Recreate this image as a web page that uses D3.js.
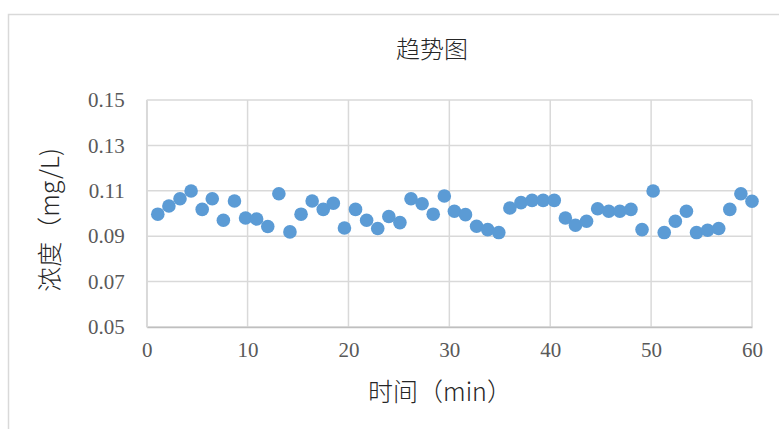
<!DOCTYPE html>
<html>
<head>
<meta charset="utf-8">
<script src="https://cdn.jsdelivr.net/npm/d3@7"></script>
<style>
  html, body { margin: 0; padding: 0; background: #fff; }
  svg { display: block; }
</style>
</head>
<body>
<svg id="chart" width="779" height="429"></svg>
<script>
// Sampling times (min)
const times = [1.1, 2.2, 3.3, 4.4, 5.5, 6.5, 7.6, 8.7, 9.8, 10.9,
  12.0, 13.1, 14.2, 15.3, 16.4, 17.5, 18.5, 19.6, 20.7, 21.8,
  22.9, 24.0, 25.1, 26.2, 27.3, 28.4, 29.5, 30.5, 31.6, 32.7,
  33.8, 34.9, 36.0, 37.1, 38.2, 39.3, 40.4, 41.5, 42.5, 43.6,
  44.7, 45.8, 46.9, 48.0, 49.1, 50.2, 51.3, 52.4, 53.5, 54.5,
  55.6, 56.7, 57.8, 58.9, 60.0];

// Measured concentration (mg/L)
const concentration = [0.0997, 0.1033, 0.1065, 0.1099, 0.1018, 0.1065, 0.0970, 0.1055, 0.0980, 0.0976,
  0.0943, 0.1087, 0.0919, 0.0997, 0.1055, 0.1018, 0.1045, 0.0936, 0.1018, 0.0970,
  0.0934, 0.0987, 0.0960, 0.1065, 0.1043, 0.0997, 0.1077, 0.1010, 0.0995, 0.0944,
  0.0929, 0.0916, 0.1024, 0.1048, 0.1058, 0.1058, 0.1058, 0.0980, 0.0948, 0.0966,
  0.1021, 0.1010, 0.1010, 0.1018, 0.0929, 0.1099, 0.0916, 0.0966, 0.1010, 0.0916,
  0.0926, 0.0934, 0.1018, 0.1087, 0.1054];

const xTicks = [0, 10, 20, 30, 40, 50, 60];
const yTicks = [0.05, 0.07, 0.09, 0.11, 0.13, 0.15];

const chartTitle = "趋势图";
const xTitle = "时间（min）";
const yTitle = "浓度（mg/L)";

const svg = d3.select("#chart");

// Chart area frame
svg.append("rect")
  .attr("x", 8.5).attr("y", 14.5)
  .attr("width", 900).attr("height", 600)
  .attr("fill", "#fff")
  .attr("stroke", "#d9d9d9")
  .attr("stroke-width", 1.5);

const plot = { left: 146.7, right: 752, top: 100, bottom: 327 };

const x = d3.scaleLinear().domain([0, 60]).range([plot.left, plot.right]);
const y = d3.scaleLinear().domain([0.05, 0.15]).range([plot.bottom, plot.top]);

// Gridlines
const grid = svg.append("g").attr("stroke", "#d9d9d9").attr("stroke-width", 1.5);
grid.selectAll("line.h").data(yTicks).join("line")
  .attr("class", "h")
  .attr("x1", plot.left).attr("x2", plot.right)
  .attr("y1", d => y(d)).attr("y2", d => y(d));
grid.selectAll("line.v").data(xTicks).join("line")
  .attr("class", "v")
  .attr("x1", d => x(d)).attr("x2", d => x(d))
  .attr("y1", plot.top).attr("y2", plot.bottom);

// Axes
const xAxis = svg.append("g")
  .attr("transform", `translate(0,${plot.bottom})`)
  .call(d3.axisBottom(x).tickValues(xTicks).tickSize(0).tickPadding(15).tickFormat(d3.format("d")));
xAxis.select(".domain").attr("stroke", "#bfbfbf").attr("stroke-width", 1.5);
xAxis.selectAll("text")
  .attr("fill", "#595959")
  .style("font-family", "'Liberation Serif', serif")
  .style("font-size", "21px");

const yAxis = svg.append("g")
  .attr("transform", `translate(${plot.left},0)`)
  .call(d3.axisLeft(y).tickValues(yTicks).tickSize(0).tickPadding(22).tickFormat(d3.format(".2f")));
yAxis.select(".domain").attr("stroke", "#d9d9d9").attr("stroke-width", 1.5);
yAxis.selectAll("text")
  .attr("fill", "#595959")
  .style("font-family", "'Liberation Serif', serif")
  .style("font-size", "21px");

// Data points
svg.append("g").selectAll("circle")
  .data(times.map((t, i) => [t, concentration[i]]))
  .join("circle")
  .attr("cx", d => x(d[0]))
  .attr("cy", d => y(d[1]))
  .attr("r", 6.8)
  .attr("fill", "#5b9bd5");

// Titles
const cjk = "'Noto Sans CJK SC', 'Noto Sans', sans-serif";
svg.append("text")
  .attr("x", 432).attr("y", 47)
  .attr("text-anchor", "middle").attr("dominant-baseline", "central")
  .attr("fill", "#262626")
  .style("font-family", cjk).style("font-weight", 300).style("font-size", "24px")
  .text(chartTitle);

svg.append("text")
  .attr("x", 440).attr("y", 390)
  .attr("text-anchor", "middle").attr("dominant-baseline", "central")
  .attr("fill", "#262626")
  .style("font-family", cjk).style("font-weight", 300).style("font-size", "25px")
  .text(xTitle);

svg.append("text")
  .attr("transform", "translate(48,220) rotate(-90)")
  .attr("text-anchor", "middle").attr("dominant-baseline", "central")
  .attr("fill", "#262626")
  .style("font-family", cjk).style("font-weight", 300).style("font-size", "25px")
  .text(yTitle);
</script>
</body>
</html>
